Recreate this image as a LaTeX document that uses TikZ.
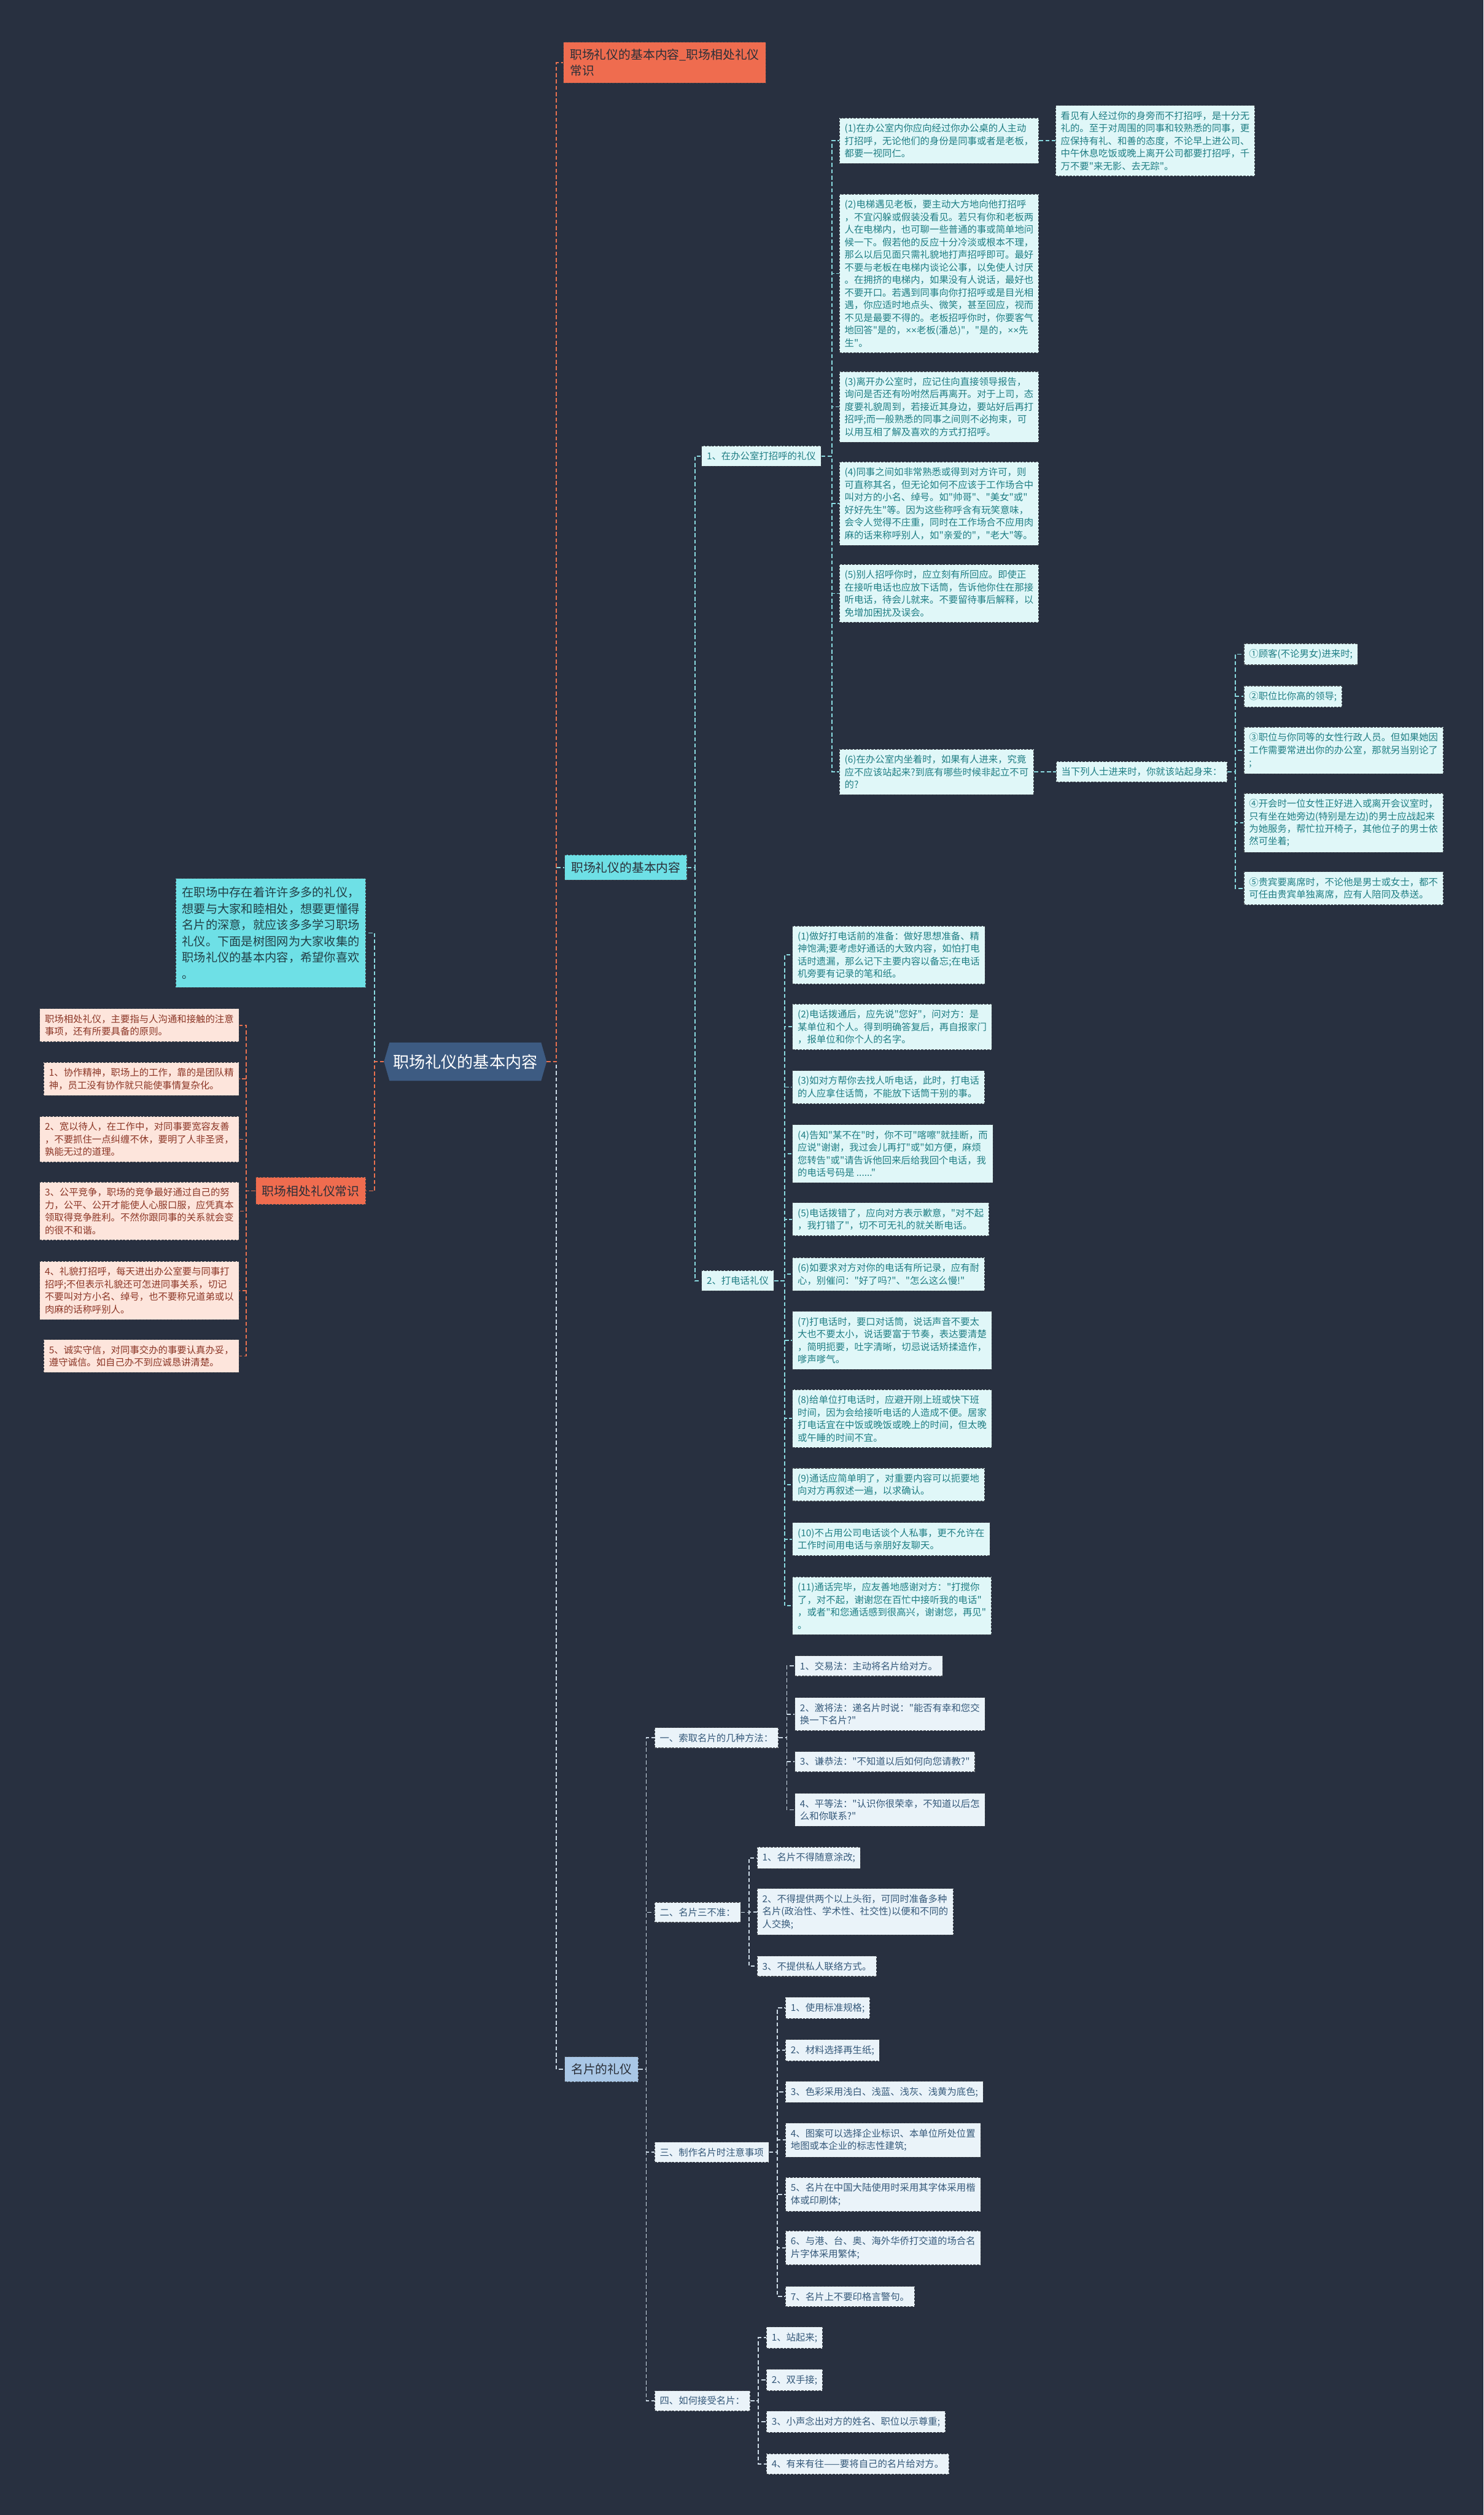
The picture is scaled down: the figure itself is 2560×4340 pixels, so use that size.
\documentclass[tikz,border=0pt]{standalone}
\usepackage{fontspec}
\newfontfamily\cjk{Noto Sans CJK SC}
\newfontfamily\latinfont{Liberation Sans}
\usetikzlibrary{shapes.symbols}

\definecolor{bgnavy}{HTML}{283040}
\definecolor{rootblue}{HTML}{3D5B82}
\definecolor{coral}{HTML}{EF6C4F}
\definecolor{aqua}{HTML}{6EE0E6}
\definecolor{steel}{HTML}{A9C7E6}
\definecolor{darkink}{HTML}{2A2F38}
\definecolor{tealfill}{HTML}{E0F7F8}
\definecolor{tealtext}{HTML}{1F7E84}
\definecolor{cardfill}{HTML}{EAF3F9}
\definecolor{cardtext}{HTML}{35597A}
\definecolor{peach}{HTML}{FDE5DC}
\definecolor{peachtext}{HTML}{8C3626}
\definecolor{edgegray}{HTML}{3A3F48}
\definecolor{aqualine}{HTML}{8ADAE0}
\definecolor{coralline}{HTML}{E8714F}
\definecolor{cardline}{HTML}{CCDAE6}

\tikzset{
  box/.style={draw=edgegray, line width=1.2pt, dash pattern=on 4pt off 2pt,
    inner xsep=9pt, inner ysep=10pt, anchor=west, align=left,
    font=\cjk\fontsize{16.3}{21.7}\selectfont},
  tealleaf/.style={box, fill=tealfill, text=tealtext},
  cardleaf/.style={box, fill=cardfill, text=cardtext},
  peachleaf/.style={box, fill=peach, text=peachtext, anchor=east},
  bigbox/.style={box, inner xsep=11pt, inner ysep=12pt, text=darkink,
    font=\cjk\fontsize{21}{27}\selectfont},
  link/.style={line width=2pt, dash pattern=on 7pt off 4pt},
}

\begin{document}
\begin{tikzpicture}[x=1pt, y=-1pt]
\fill[bgnavy] (0,0) rectangle (2560,4340);
\useasboundingbox (0,0) rectangle (2560,4340);

% centre
\node[signal, signal to=west and east, signal pointer angle=148, fill=rootblue,
  draw=rootblue, text=white, inner xsep=6pt, inner ysep=20pt,
  font=\cjk\fontsize{27.7}{32}\selectfont] (root) at (803,1832) {职场礼仪的基本内容};

% left side
\node[bigbox, fill=aqua, anchor=east, inner ysep=15pt, text=darkink!80!teal,
  font=\cjk\fontsize{20.4}{28}\selectfont] (intro) at (632,1610)
  {在职场中存在着许许多多的礼仪，\\想要与大家和睦相处，想要更懂得\\名片的深意，就应该多多学习职场\\礼仪。下面是树图网为大家收集的\\职场礼仪的基本内容，希望你喜欢\\。};
\node[bigbox, fill=coral, anchor=east, inner ysep=14pt] (rel) at (632,2055) {职场相处礼仪常识};

\node[peachleaf] (r0) at (413,1769) {职场相处礼仪，主要指与人沟通和接触的注意\\事项，还有所要具备的原则。};
\node[peachleaf] (r1) at (413,1862) {1、协作精神，职场上的工作，靠的是团队精\\神，员工没有协作就只能使事情复杂化。};
\node[peachleaf] (r2) at (413,1966) {2、宽以待人，在工作中，对同事要宽容友善\\，不要抓住一点纠缠不休，要明了人非圣贤，\\孰能无过的道理。};
\node[peachleaf] (r3) at (413,2090) {3、公平竞争，职场的竞争最好通过自己的努\\力，公平、公开才能使人心服口服，应凭真本\\领取得竞争胜利。不然你跟同事的关系就会变\\的很不和谐。};
\node[peachleaf] (r4) at (413,2227) {4、礼貌打招呼，每天进出办公室要与同事打\\招呼;不但表示礼貌还可怎进同事关系，切记\\不要叫对方小名、绰号，也不要称兄道弟或以\\肉麻的话称呼别人。};
\node[peachleaf] (r5) at (413,2340) {5、诚实守信，对同事交办的事要认真办妥，\\遵守诚信。如自己办不到应诚恳讲清楚。};

% right side, main branches
\node[bigbox, fill=coral, inner ysep=12pt] (head) at (972,108) {职场礼仪的基本内容\_职场相处礼仪\\常识};
\node[bigbox, fill=aqua] (basic) at (974,1497) {职场礼仪的基本内容};
\node[bigbox, fill=steel] (card) at (974,3571) {名片的礼仪};

\node[tealleaf] (greet) at (1210,787) {1、在办公室打招呼的礼仪};
\node[tealleaf] (phone) at (1210,2210) {2、打电话礼仪};

% greeting
\node[tealleaf] (g1) at (1448,243) {(1)在办公室内你应向经过你办公桌的人主动\\打招呼，无论他们的身份是同事或者是老板，\\都要一视同仁。};
\node[tealleaf] (note) at (1821,243) {看见有人经过你的身旁而不打招呼，是十分无\\礼的。至于对周围的同事和较熟悉的同事，更\\应保持有礼、和善的态度，不论早上进公司、\\中午休息吃饭或晚上离开公司都要打招呼，千\\万不要"来无影、去无踪"。};
\node[tealleaf] (g2) at (1448,472) {(2)电梯遇见老板，要主动大方地向他打招呼\\，不宜闪躲或假装没看见。若只有你和老板两\\人在电梯内，也可聊一些普通的事或简单地问\\候一下。假若他的反应十分冷淡或根本不理，\\那么以后见面只需礼貌地打声招呼即可。最好\\不要与老板在电梯内谈论公事，以免使人讨厌\\。在拥挤的电梯内，如果没有人说话，最好也\\不要开口。若遇到同事向你打招呼或是目光相\\遇，你应适时地点头、微笑，甚至回应，视而\\不见是最要不得的。老板招呼你时，你要客气\\地回答"是的，{\latinfont ××}老板(潘总)"，"是的，{\latinfont ××}先\\生"。};
\node[tealleaf] (g3) at (1448,702) {(3)离开办公室时，应记住向直接领导报告，\\询问是否还有吩咐然后再离开。对于上司，态\\度要礼貌周到，若接近其身边，要站好后再打\\招呼;而一般熟悉的同事之间则不必拘束，可\\以用互相了解及喜欢的方式打招呼。};
\node[tealleaf] (g4) at (1448,869) {(4)同事之间如非常熟悉或得到对方许可，则\\可直称其名，但无论如何不应该于工作场合中\\叫对方的小名、绰号。如"帅哥"、"美女"或"\\好好先生"等。因为这些称呼含有玩笑意味，\\会令人觉得不庄重，同时在工作场合不应用肉\\麻的话来称呼别人，如"亲爱的"，"老大"等。};
\node[tealleaf] (g5) at (1448,1024) {(5)别人招呼你时，应立刻有所回应。即使正\\在接听电话也应放下话筒，告诉他你住在那接\\听电话，待会儿就来。不要留待事后解释，以\\免增加困扰及误会。};
\node[tealleaf] (g6) at (1448,1332) {(6)在办公室内坐着时，如果有人进来，究竟\\应不应该站起来?到底有哪些时候非起立不可\\的?};
\node[tealleaf] (stand) at (1822,1332) {当下列人士进来时，你就该站起身来：};
\node[tealleaf] (s1) at (2146,1129) {①顾客(不论男女)进来时;};
\node[tealleaf] (s2) at (2146,1202) {②职位比你高的领导;};
\node[tealleaf] (s3) at (2146,1295) {③职位与你同等的女性行政人员。但如果她因\\工作需要常进出你的办公室，那就另当别论了\\;};
\node[tealleaf] (s4) at (2146,1420) {④开会时一位女性正好进入或离开会议室时，\\只有坐在她旁边(特别是左边)的男士应战起来\\为她服务，帮忙拉开椅子，其他位子的男士依\\然可坐着;};
\node[tealleaf] (s5) at (2146,1533) {⑤贵宾要离席时，不论他是男士或女士，都不\\可任由贵宾单独离席，应有人陪同及恭送。};

% phone
\node[tealleaf] (p1) at (1367,1648) {(1)做好打电话前的准备：做好思想准备、精\\神饱满;要考虑好通话的大致内容，如怕打电\\话时遗漏，那么记下主要内容以备忘;在电话\\机旁要有记录的笔和纸。};
\node[tealleaf] (p2) at (1367,1772) {(2)电话拨通后，应先说"您好"，问对方：是\\某单位和个人。得到明确答复后，再自报家门\\，报单位和你个人的名字。};
\node[tealleaf] (p3) at (1367,1876) {(3)如对方帮你去找人听电话，此时，打电话\\的人应拿住话筒，不能放下话筒干别的事。};
\node[tealleaf] (p4) at (1367,1991) {(4)告知"某不在"时，你不可"喀嚓"就挂断，而\\应说"谢谢，我过会儿再打"或"如方便，麻烦\\您转告"或"请告诉他回来后给我回个电话，我\\的电话号码是 ......"};
\node[tealleaf] (p5) at (1367,2104) {(5)电话拨错了，应向对方表示歉意，"对不起\\，我打错了"，切不可无礼的就关断电话。};
\node[tealleaf] (p6) at (1367,2199) {(6)如要求对方对你的电话有所记录，应有耐\\心，别催问："好了吗?"、"怎么这么慢!"};
\node[tealleaf] (p7) at (1367,2313) {(7)打电话时，要口对话筒，说话声音不要太\\大也不要太小，说话要富于节奏，表达要清楚\\，简明扼要，吐字清晰，切忌说话矫揉造作，\\嗲声嗲气。};
\node[tealleaf] (p8) at (1367,2448) {(8)给单位打电话时，应避开刚上班或快下班\\时间，因为会给接听电话的人造成不便。居家\\打电话宜在中饭或晚饭或晚上的时间，但太晚\\或午睡的时间不宜。};
\node[tealleaf] (p9) at (1367,2562) {(9)通话应简单明了，对重要内容可以扼要地\\向对方再叙述一遍，以求确认。};
\node[tealleaf] (p10) at (1367,2656) {(10)不占用公司电话谈个人私事，更不允许在\\工作时间用电话与亲朋好友聊天。};
\node[tealleaf] (p11) at (1367,2771) {(11)通话完毕，应友善地感谢对方："打搅你\\了，对不起，谢谢您在百忙中接听我的电话"\\，或者"和您通话感到很高兴，谢谢您，再见"\\。};

% business cards
\node[cardleaf] (k1) at (1129,2999) {一、索取名片的几种方法：};
\node[cardleaf] (k2) at (1129,3300) {二、名片三不准：};
\node[cardleaf] (k3) at (1129,3714) {三、制作名片时注意事项};
\node[cardleaf] (k4) at (1129,4143) {四、如何接受名片：};

\node[cardleaf] (a1) at (1371,2875) {1、交易法：主动将名片给对方。};
\node[cardleaf] (a2) at (1371,2958) {2、激将法：递名片时说："能否有幸和您交\\换一下名片?"};
\node[cardleaf] (a3) at (1371,3040) {3、谦恭法："不知道以后如何向您请教?"};
\node[cardleaf] (a4) at (1371,3123) {4、平等法："认识你很荣幸，不知道以后怎\\么和你联系?"};

\node[cardleaf] (b1) at (1306,3206) {1、名片不得随意涂改;};
\node[cardleaf] (b2) at (1306,3299) {2、不得提供两个以上头衔，可同时准备多种\\名片(政治性、学术性、社交性)以便和不同的\\人交换;};
\node[cardleaf] (b3) at (1306,3393) {3、不提供私人联络方式。};

\node[cardleaf] (c1) at (1355,3465) {1、使用标准规格;};
\node[cardleaf] (c2) at (1355,3538) {2、材料选择再生纸;};
\node[cardleaf] (c3) at (1355,3610) {3、色彩采用浅白、浅蓝、浅灰、浅黄为底色;};
\node[cardleaf] (c4) at (1355,3693) {4、图案可以选择企业标识、本单位所处位置\\地图或本企业的标志性建筑;};
\node[cardleaf] (c5) at (1355,3787) {5、名片在中国大陆使用时采用其字体采用楷\\体或印刷体;};
\node[cardleaf] (c6) at (1355,3879) {6、与港、台、奥、海外华侨打交道的场合名\\片字体采用繁体;};
\node[cardleaf] (c7) at (1355,3963) {7、名片上不要印格言警句。};

\node[cardleaf] (d1) at (1322,4034) {1、站起来;};
\node[cardleaf] (d2) at (1322,4107) {2、双手接;};
\node[cardleaf] (d3) at (1322,4179) {3、小声念出对方的姓名、职位以示尊重;};
\node[cardleaf] (d4) at (1322,4252) {4、有来有往——要将自己的名片给对方。};

% connectors
\draw[link, aqualine] (root.west) -- ++(-16,0) |- (intro.east);
\draw[link, coralline] (root.west) -- ++(-16,0) |- (rel.east);
\foreach \i in {0,...,5}
  \draw[link, coralline] (rel.west) -- ++(-16,0) |- (r\i.east);

\draw[link, cardline] (root.east) -- ++(17,0) |- (card.west);
\draw[link, aqualine] (root.east) -- ++(17,0) |- (basic.west);
\draw[link, coralline] (root.east) -- ++(17,0) |- (head.west);

\foreach \n in {greet, phone}
  \draw[link, aqualine] (basic.east) -- ++(13,0) |- (\n.west);
\foreach \i in {1,...,6}
  \draw[link, aqualine] (greet.east) -- ++(18,0) |- (g\i.west);
\draw[link, aqualine] (g1.east) -- (note.west);
\draw[link, aqualine] (g6.east) -- (stand.west);
\foreach \i in {1,...,5}
  \draw[link, aqualine] (stand.east) -- ++(14,0) |- (s\i.west);
\foreach \i in {1,...,11}
  \draw[link, aqualine] (phone.east) -- ++(18,0) |- (p\i.west);

\foreach \i in {1,...,4}
  \draw[link, cardline] (card.east) -- ++(13,0) |- (k\i.west);
\foreach \i in {1,...,4}
  \draw[link, cardline] (k1.east) -- ++(14,0) |- (a\i.west);
\foreach \i in {1,...,3}
  \draw[link, cardline] (k2.east) -- ++(14,0) |- (b\i.west);
\foreach \i in {1,...,7}
  \draw[link, cardline] (k3.east) -- ++(14,0) |- (c\i.west);
\foreach \i in {1,...,4}
  \draw[link, cardline] (k4.east) -- ++(14,0) |- (d\i.west);
\end{tikzpicture}
\end{document}
